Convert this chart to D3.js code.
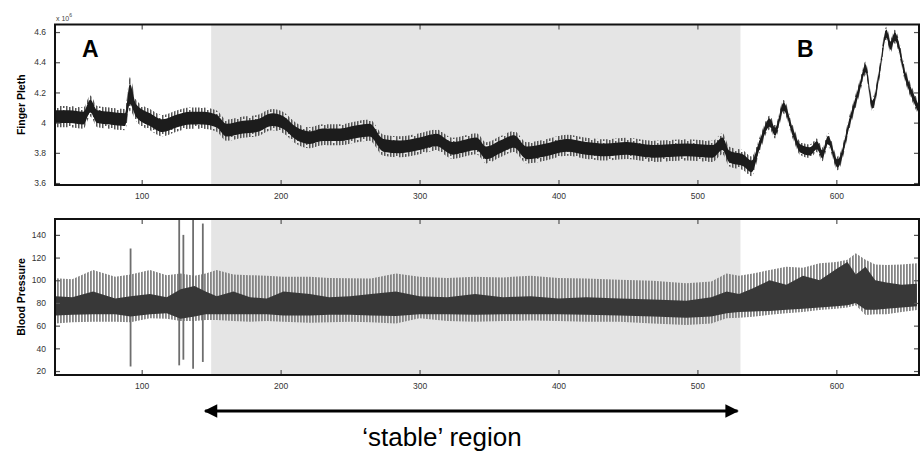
<!DOCTYPE html>
<html>
<head>
<meta charset="utf-8">
<script src="https://cdn.jsdelivr.net/npm/d3@7"></script>
<style>
  body { margin: 0; background: #fff; }
  svg { display: block; font-family: "Liberation Sans", Arial, sans-serif; }
</style>
</head>
<body>
<svg id="chart" width="920" height="452"></svg>
<script>
// x ticks (sample index) shared by both panels
const xTicks = [100, 200, 300, 400, 500, 600];
const stableRegion = [150, 531];

// finger pleth (x 10^6): band centre and half-width
const plethX = [38, 48, 58, 63, 68, 77, 88, 91.5, 96, 106,
                115, 125, 135, 144, 154, 161, 173, 183, 194, 202,
                211, 221, 230, 243, 255, 264, 274, 286, 300, 312,
                324, 341, 348, 358, 368, 377, 391, 406, 420, 434,
                449, 468, 492, 511, 518, 523, 533, 539, 545, 552,
                556, 562, 569, 574, 581, 586, 590, 594, 601, 610,
                617, 621, 626, 631, 636, 639, 642, 650, 659];
const plethMid = [4.04, 4.04, 4.03, 4.11, 4.04, 4.03, 4.02, 4.19, 4.08, 4.02,
                  3.98, 4.01, 4.03, 4.03, 4.01, 3.95, 3.97, 3.98, 4.02, 4.00,
                  3.93, 3.90, 3.92, 3.92, 3.94, 3.95, 3.85, 3.84, 3.86, 3.885,
                  3.83, 3.86, 3.80, 3.84, 3.875, 3.80, 3.82, 3.85, 3.83, 3.82,
                  3.83, 3.81, 3.82, 3.81, 3.86, 3.775, 3.75, 3.71, 3.86, 4.00,
                  3.94, 4.105, 3.93, 3.83, 3.81, 3.85, 3.79, 3.885, 3.73, 4.02,
                  4.24, 4.36, 4.12, 4.33, 4.59, 4.51, 4.57, 4.30, 4.095];
const plethSpread = [0.07, 0.07, 0.07, 0.07, 0.07, 0.07, 0.07, 0.11, 0.07, 0.07,
                     0.07, 0.07, 0.07, 0.07, 0.07, 0.07, 0.07, 0.07, 0.07, 0.07,
                     0.07, 0.07, 0.07, 0.07, 0.07, 0.07, 0.07, 0.07, 0.07, 0.07,
                     0.07, 0.07, 0.07, 0.07, 0.07, 0.07, 0.07, 0.07, 0.07, 0.07,
                     0.07, 0.07, 0.07, 0.07, 0.07, 0.065, 0.065, 0.065, 0.05, 0.045,
                     0.045, 0.045, 0.045, 0.045, 0.045, 0.045, 0.045, 0.045, 0.045, 0.045,
                     0.045, 0.045, 0.045, 0.045, 0.045, 0.045, 0.045, 0.045, 0.045];
const plethTicks = [3.6, 3.8, 4, 4.2, 4.4, 4.6];

// blood pressure: stripe envelope and dark core
const bpX = [38, 50, 65, 81, 92, 106, 118, 128, 138, 146,
             154, 166, 178, 190, 202, 221, 235, 250, 265, 283,
             300, 320, 340, 360, 380, 400, 420, 444, 468, 492,
             510, 521, 530, 540, 552, 564, 576, 588, 600, 608,
             614, 621, 628, 636, 647, 658];
const bpUpper = [101.8, 101, 109, 103, 105, 109, 104.5, 106, 104, 106,
                 109, 105, 104.5, 104, 103, 103, 102, 101.8, 101.5, 106,
                 103, 102, 103, 102.5, 104, 102, 101.5, 100.5, 99.5, 97.4,
                 99, 106, 104, 106, 109, 112, 111, 115, 116, 118,
                 123.8, 118, 114, 113.5, 114, 115];
const bpLower = [62, 63, 63.5, 63.5, 63, 66.5, 66, 64, 64, 65,
                 65, 64, 63.5, 64, 63.5, 62.5, 63, 63.5, 63, 62,
                 66.5, 64, 63.5, 64, 64.5, 64, 63.5, 63.5, 62, 60.6,
                 62, 66.5, 67, 67.9, 69.5, 70.9, 72, 73.8, 75, 76,
                 78, 69.4, 70, 70, 72, 73.8];
const bpCoreUp = [86, 85, 90, 84, 86, 88, 85, 92, 95, 90,
                  86, 90, 85, 84, 90, 88, 85, 86, 88, 90,
                  86, 85, 88, 85, 86, 84, 85, 84, 83, 82,
                  85, 90, 88, 93, 100, 96, 104, 100, 110, 116,
                  105, 112, 100, 98, 96, 97];
const bpCoreLo = [69, 69.5, 70, 70, 68, 70, 71, 66, 68, 70,
                  70, 70, 70, 70, 69, 69, 69.5, 69.5, 69, 68.5,
                  70, 70, 69.5, 70, 70, 70, 69.5, 69, 68, 67,
                  68, 71, 72, 72.5, 73, 74, 75, 76, 77, 78,
                  80, 74, 74, 75, 76, 77];
// artefact spikes in the pressure trace
const spikeX = [92, 127, 130, 137, 144];
const spikeHi = [128, 158, 140, 158, 150];
const spikeLo = [24, 25, 30, 22, 28];
const bpTicks = [20, 40, 60, 80, 100, 120, 140];

const svg = d3.select("#chart");
const left = 55, right = 919;

const x = d3.scaleLinear().domain([37.6, 659.5]).range([left, right]);
const yP = d3.scaleLinear().domain([3.587, 4.65]).range([185, 24.5]);
const yB = d3.scaleLinear().domain([16.5, 154]).range([375, 219]);

const defs = svg.append("defs");
// ragged vertical stripes: each stripe broken at a different height
function stripes(id, color, w, tileH, gaps) {
    const p = defs.append("pattern").attr("id", id)
        .attr("patternUnits", "userSpaceOnUse")
        .attr("width", 3 * gaps.length).attr("height", tileH);
    gaps.forEach((g, i) => {
        p.append("rect").attr("x", i * 3).attr("y", 0).attr("width", w).attr("height", g[0]).attr("fill", color);
        p.append("rect").attr("x", i * 3).attr("y", g[0] + g[1]).attr("width", w)
            .attr("height", Math.max(0, tileH - g[0] - g[1])).attr("fill", color);
    });
}
stripes("stripeP", "#555", 1.5, 11, [[2, 2], [7, 2], [4, 0], [9, 2], [0, 0], [5, 3]]);
stripes("stripeB", "#858585", 1.8, 6, [[6, 0]]);

function panel(top, bottom, id) {
    const g = svg.append("g");
    defs.append("clipPath").attr("id", id)
        .append("rect").attr("x", left).attr("y", top)
        .attr("width", right - left).attr("height", bottom - top);
    g.append("rect")
        .attr("x", x(stableRegion[0])).attr("y", top)
        .attr("width", x(stableRegion[1]) - x(stableRegion[0]))
        .attr("height", bottom - top)
        .attr("fill", "#e5e5e5");
    return g.append("g").attr("clip-path", `url(#${id})`);
}

function frame(y, top, bottom, ticks, fmt) {
    const g = svg.append("g");
    // inward ticks on all four sides
    g.append("g").attr("transform", `translate(0,${bottom})`)
        .call(d3.axisBottom(x).tickValues(xTicks).tickSizeInner(-5).tickSizeOuter(0).tickPadding(8));
    g.append("g").attr("transform", `translate(0,${top})`)
        .call(d3.axisTop(x).tickValues(xTicks).tickSizeInner(-5).tickSizeOuter(0).tickFormat(""));
    g.append("g").attr("transform", `translate(${left},0)`)
        .call(d3.axisLeft(y).tickValues(ticks).tickSizeInner(-5).tickSizeOuter(0).tickPadding(9).tickFormat(fmt));
    g.append("g").attr("transform", `translate(${right},0)`)
        .call(d3.axisRight(y).tickValues(ticks).tickSizeInner(-5).tickSizeOuter(0).tickFormat(""));
    g.selectAll(".domain").remove();
    g.selectAll(".tick line").attr("stroke", "#555").attr("stroke-width", 1.2);
    g.selectAll(".tick text").attr("fill", "#333").style("font-size", "8.5px");
    g.append("rect")
        .attr("x", left).attr("y", top)
        .attr("width", right - left).attr("height", bottom - top)
        .attr("fill", "none").attr("stroke", "#111").attr("stroke-width", 2);
}

// ---- top panel: finger pleth
const gP = panel(24.5, 185, "clipP");
const plethBand = k => d3.area()
    .curve(d3.curveMonotoneX)
    .x((d, i) => x(plethX[i]))
    .y0((d, i) => yP(plethMid[i] - plethSpread[i] * k))
    .y1((d, i) => yP(plethMid[i] + plethSpread[i] * k));
gP.append("path").datum(plethX).attr("d", plethBand(1)).attr("fill", "url(#stripeP)");
gP.append("path").datum(plethX).attr("d", plethBand(0.6)).attr("fill", "#1c1c1c");
frame(yP, 24.5, 185, plethTicks, d3.format("~g"));

// ---- bottom panel: blood pressure
const gB = panel(219, 375, "clipB");
gB.append("path").datum(bpX)
    .attr("d", d3.area().x((d, i) => x(bpX[i])).y0((d, i) => yB(bpLower[i])).y1((d, i) => yB(bpUpper[i])))
    .attr("fill", "url(#stripeB)");
gB.selectAll("line.spike").data(spikeX).join("line")
    .attr("class", "spike")
    .attr("x1", d => x(d)).attr("x2", d => x(d))
    .attr("y1", (d, i) => yB(spikeLo[i])).attr("y2", (d, i) => yB(spikeHi[i]))
    .attr("stroke", "#6e6e6e").attr("stroke-width", 1.8);
gB.append("path").datum(bpX)
    .attr("d", d3.area().x((d, i) => x(bpX[i])).y0((d, i) => yB(bpCoreLo[i])).y1((d, i) => yB(bpCoreUp[i])))
    .attr("fill", "#383838");
frame(yB, 219, 375, bpTicks, d3.format("d"));

// ---- labels
svg.append("text").attr("transform", `translate(25,${(24.5 + 185) / 2}) rotate(-90)`)
    .attr("text-anchor", "middle").style("font-size", "10.5px").style("font-weight", "bold")
    .text("Finger Pleth");
svg.append("text").attr("transform", `translate(25,${(219 + 375) / 2}) rotate(-90)`)
    .attr("text-anchor", "middle").style("font-size", "10.5px").style("font-weight", "bold")
    .text("Blood Pressure");
const mult = svg.append("text").attr("x", 56).attr("y", 21).attr("fill", "#444").style("font-size", "7px");
mult.append("tspan").text("x 10");
mult.append("tspan").attr("dy", -4).style("font-size", "5px").text("6");

svg.append("text").attr("x", 82).attr("y", 57).style("font-size", "23px").style("font-weight", "bold").text("A");
svg.append("text").attr("x", 797).attr("y", 57).style("font-size", "23px").style("font-weight", "bold").text("B");

// stable region arrow
const arrowY = 411;
defs.append("marker").attr("id", "head")
    .attr("viewBox", "0 0 10 10").attr("refX", 9).attr("refY", 5)
    .attr("markerWidth", 5).attr("markerHeight", 4.2).attr("orient", "auto-start-reverse")
    .append("path").attr("d", "M0,0L10,5L0,10z").attr("fill", "#000");
svg.append("line")
    .attr("x1", x(stableRegion[0]) - 6).attr("x2", x(stableRegion[1]) - 3)
    .attr("y1", arrowY).attr("y2", arrowY)
    .attr("stroke", "#000").attr("stroke-width", 3.2)
    .attr("marker-start", "url(#head)").attr("marker-end", "url(#head)");
svg.append("text").attr("x", 442).attr("y", 446).attr("text-anchor", "middle")
    .style("font-size", "26px").text("\u2018stable\u2019 region");
</script>
</body>
</html>
